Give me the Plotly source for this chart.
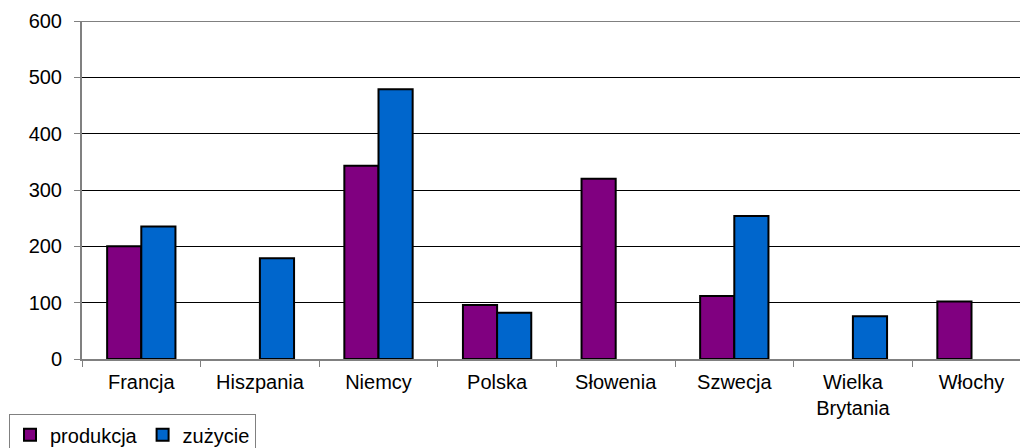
import plotly.graph_objects as go

# Kraje i wartości (produkcja / zużycie)
kraje = ["Francja", "Hiszpania", "Niemcy", "Polska", "Słowenia", "Szwecja",
         "Wielka<br>Brytania", "Włochy"]
produkcja = [200, None, 343, 96, 320, 112, None, 102]
zuzycie = [235, 179, 479, 82, None, 254, 76, None]
y_ticks = [0, 100, 200, 300, 400, 500, 600]

FONT = "Liberation Sans, Arial, sans-serif"
W, H = 1020, 448
L, T, B = 82, 20.5, 88.5
plot_w = W - L
plot_h = H - T - B
cat_w = 118.6

fig = go.Figure()
fig.add_trace(go.Bar(
    name="produkcja", x=kraje, y=produkcja,
    marker=dict(color="#800080", line=dict(color="black", width=2)),
))
fig.add_trace(go.Bar(
    name="zużycie", x=kraje, y=zuzycie,
    marker=dict(color="#0066CC", line=dict(color="black", width=2)),
))

fig.update_layout(
    width=W, height=H,
    margin=dict(l=L, r=0, t=T, b=B, pad=0, autoexpand=False),
    paper_bgcolor="white", plot_bgcolor="white",
    barmode="group", bargap=0.424, bargroupgap=0,
    font=dict(family=FONT, size=20, color="black"),
    showlegend=True,
    legend=dict(
        orientation="h",
        x=(9 - L) / plot_w, xanchor="left",
        y=(H - B - 415) / plot_h, yanchor="top",
        bordercolor="#808080", borderwidth=1,
        font=dict(family=FONT, size=20, color="black"),
        itemwidth=30, tracegroupgap=0,
        traceorder="normal",
    ),
)
fig.update_xaxes(
    type="category", automargin=False,
    range=[-0.5, -0.5 + plot_w / cat_w],
    showline=True, linecolor="#808080", linewidth=2,
    mirror=False,
    ticks="outside", tickson="boundaries", ticklen=6, tickcolor="#808080", tickwidth=1,
    showgrid=False,
    tickfont=dict(family=FONT, size=20, color="black"),
    ticklabelstandoff=4,
)
fig.update_yaxes(
    range=[0, 600], tickvals=y_ticks, automargin=False,
    showline=True, linecolor="#808080", linewidth=2,
    ticks="outside", ticklen=6, tickcolor="#808080", tickwidth=1,
    showgrid=True, gridcolor="black", gridwidth=1,
    zeroline=False,
    tickfont=dict(family=FONT, size=20, color="black"),
    ticklabelstandoff=8,
)
# górna krawędź obszaru wykresu
fig.add_shape(type="line", xref="paper", yref="y", x0=0, x1=1, y0=600, y1=600,
              line=dict(color="#808080", width=2))

fig.write_html("out.html")
